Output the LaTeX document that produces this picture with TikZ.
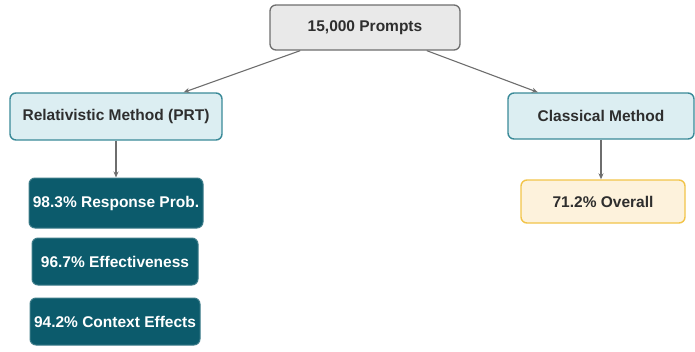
\documentclass[tikz,border=0pt]{standalone}
\usepackage{fontspec}
\setmainfont{Liberation Sans}
\usetikzlibrary{arrows.meta}
\definecolor{boxgray}{HTML}{E9E9E9}
\definecolor{linegray}{HTML}{6E6E6E}
\definecolor{paleblue}{HTML}{DCEEF2}
\definecolor{tealedge}{HTML}{3A8A98}
\definecolor{tealfill}{HTML}{0C5B6C}
\definecolor{cream}{HTML}{FDF2DC}
\definecolor{gold}{HTML}{F2C449}
\definecolor{textdark}{HTML}{2E2E2E}
\tikzset{
  base/.style={rounded corners=6pt, align=center, inner sep=0pt,
    font=\fontsize{15.5}{18}\selectfont\bfseries},
  rootbox/.style={base, draw=linegray, line width=1.3pt, fill=boxgray, text=textdark},
  methodbox/.style={base, draw=tealedge, line width=1.4pt, fill=paleblue, text=textdark},
  statbox/.style={base, draw=tealfill!80!white, line width=1pt, fill=tealfill, text=white},
  resultbox/.style={base, draw=gold, line width=1.4pt, fill=cream, text=textdark},
  link/.style={draw=linegray, line width=1.1pt, -{Stealth[length=6pt,width=5pt]}}
}
\begin{document}
\begin{tikzpicture}[x=1pt,y=-1pt]
\useasboundingbox (0,0) rectangle (695,351);
\node[rootbox, minimum width=190pt, minimum height=45pt] (root) at (365,27.5) {15,000 Prompts};
\node[methodbox, minimum width=212pt, minimum height=47pt] (rel) at (116,116.5) {Relativistic Method (PRT)};
\node[methodbox, minimum width=186pt, minimum height=46pt] (cls) at (601,116) {Classical Method};
\node[statbox, minimum width=174pt, minimum height=50pt] (s1) at (116,203) {98.3\% Response Prob.};
\node[statbox, minimum width=166pt, minimum height=47pt] (s2) at (115,261.5) {96.7\% Effectiveness};
\node[statbox, minimum width=170pt, minimum height=47pt] (s3) at (115,321.5) {94.2\% Context Effects};
\node[resultbox, minimum width=164pt, minimum height=43pt] (res) at (603,201.5) {71.2\% Overall};
\draw[link] (root) -- (rel);
\draw[link] (root) -- (cls);
\draw[link] (rel.south) -- (rel.south |- s1.north);
\draw[link] (cls.south) -- (cls.south |- res.north);
\end{tikzpicture}
\end{document}
